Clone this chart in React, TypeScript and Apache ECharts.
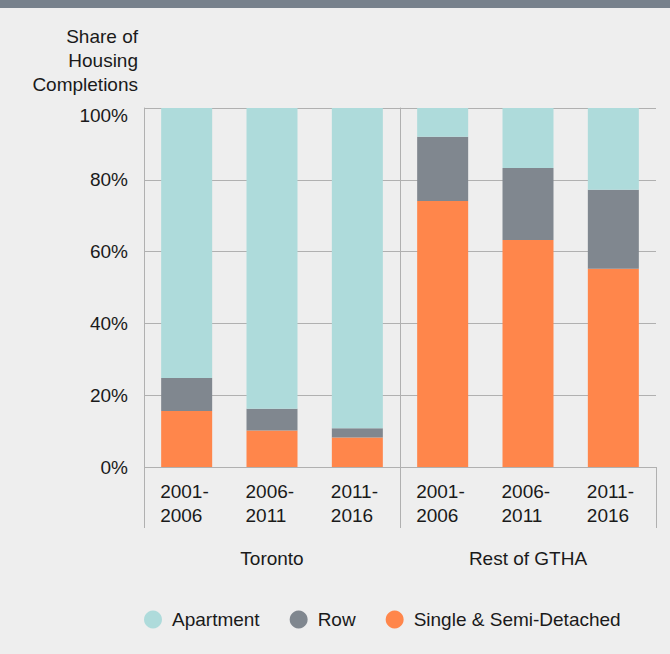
import React, { useEffect, useRef } from "react";
import * as echarts from "echarts";

const groups = ["Toronto", "Rest of GTHA"];
const periods = ["2001-\n2006", "2006-\n2011", "2011-\n2016"];
const seriesNames = ["Apartment", "Row", "Single & Semi-Detached"];
const torontoSingle = [15.6, 10.2, 8.2];
const torontoRow = [9.2, 6.0, 2.6];
const torontoApartment = [75.2, 83.8, 89.2];
const restSingle = [74.1, 63.2, 55.2];
const restRow = [17.9, 20.1, 22.0];
const restApartment = [8.0, 16.7, 22.8];
const yTicks = [0, 20, 40, 60, 80, 100];
const yTitle = "Share of\nHousing\nCompletions";

const COLORS: Record<string, string> = {
  Apartment: "#aedbdb",
  Row: "#80878f",
  "Single & Semi-Detached": "#ff864b",
};
const FONT = "'Liberation Sans', Arial, Helvetica, sans-serif";
const TEXT = "#1a1a1a";
const LINE = "#b0b0b0";

export default function App() {
  const ref = useRef<HTMLDivElement>(null);
  useEffect(() => {
    if (!ref.current) return;
    const chart = echarts.init(ref.current, null, { renderer: "svg" });
    const tick = {
      show: true,
      interval: (i: number) => i === 0,
      length: 61,
      lineStyle: { color: LINE, width: 1 },
    };
    const xAxisFor = (gi: number) => ({
      type: "category",
      gridIndex: gi,
      data: periods,
      boundaryGap: true,
      axisLine: { show: false },
      axisTick: tick,
      axisLabel: {
        interval: 0,
        margin: 12,
        formatter: (v: string) => v.split("\n").map((s) => `{a|${s}}`).join("\n"),
        rich: { a: { width: 53, align: "left", fontSize: 19, lineHeight: 24, color: TEXT, fontFamily: FONT } },
      },
      name: groups[gi],
      nameLocation: "middle",
      nameGap: 82,
      nameTextStyle: { fontSize: 19, color: TEXT, fontFamily: FONT },
    });
    // closing boundary tick at the right end of the second panel
    const closingAxis = {
      type: "category",
      gridIndex: 1,
      data: periods,
      inverse: true,
      position: "bottom",
      boundaryGap: true,
      axisLine: { show: false },
      axisTick: tick,
      axisLabel: { show: false },
      splitLine: { show: false },
    };
    const yAxisFor = (gi: number) => ({
      type: "value",
      gridIndex: gi,
      min: 0,
      max: 100,
      interval: 20,
      axisLine: { show: true, lineStyle: { color: LINE, width: 1 } },
      axisTick: { show: false },
      splitLine: { show: true, lineStyle: { color: LINE, width: 1 } },
      axisLabel: {
        show: gi === 0,
        margin: 16,
        fontSize: 19,
        color: TEXT,
        fontFamily: FONT,
        customValues: yTicks,
        formatter: (v: number) => (v === 100 ? `{t|${v}%}` : `${v}%`),
        rich: { t: { fontSize: 19, color: TEXT, fontFamily: FONT, padding: [14, 0, 0, 0] } },
      },
    });
    const mk = (name: string, data: number[], gi: number) => ({
      name,
      type: "bar",
      stack: "g" + gi,
      xAxisIndex: gi,
      yAxisIndex: gi,
      barWidth: 51,
      data,
      itemStyle: { color: COLORS[name] },
    });
    chart.setOption({
      animation: false,
      backgroundColor: "#eeeeee",
      textStyle: { fontFamily: FONT },
      graphic: [
        { type: "rect", shape: { x: 0, y: 0, width: 670, height: 8 }, style: { fill: "#77818c" } },
        {
          type: "text",
          x: 138,
          y: 24,
          style: {
            text: yTitle,
            textAlign: "right",
            textVerticalAlign: "top",
            fontSize: 19,
            lineHeight: 24,
            fontFamily: FONT,
            fill: TEXT,
          },
        },
      ],
      legend: {
        data: seriesNames,
        left: 139,
        top: 605,
        icon: "circle",
        itemWidth: 18,
        itemHeight: 18,
        itemGap: 30,
        textStyle: { fontSize: 19, color: TEXT, fontFamily: FONT, padding: [0, 0, 0, 5] },
      },
      grid: [
        { left: 144, top: 108, width: 256, height: 359, containLabel: false },
        { left: 400, top: 108, width: 256, height: 359, containLabel: false },
      ],
      xAxis: [xAxisFor(0), xAxisFor(1), closingAxis],
      yAxis: [yAxisFor(0), yAxisFor(1)],
      series: [
        mk("Single & Semi-Detached", torontoSingle, 0),
        mk("Row", torontoRow, 0),
        mk("Apartment", torontoApartment, 0),
        mk("Single & Semi-Detached", restSingle, 1),
        mk("Row", restRow, 1),
        mk("Apartment", restApartment, 1),
      ],
    });
    return () => chart.dispose();
  }, []);
  return <div ref={ref} style={{ position: "fixed", left: 0, top: 0, width: 670, height: 654 }} />;
}
